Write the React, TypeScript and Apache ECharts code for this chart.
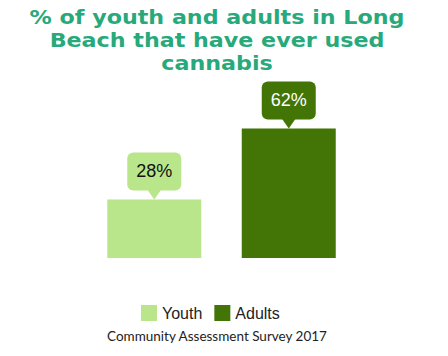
import React, { useEffect, useRef } from "react";
import * as echarts from "echarts";

const groups = ["Youth", "Adults"];
const youthValues: (number | string)[] = [28, "-"];
const adultValues: (number | string)[] = ["-", 62];
const calloutValues = [28, 62];
const titleLines = ["% of youth and adults in Long", "Beach that have ever used", "cannabis"];
const sourceText = "Community Assessment Survey 2017";

const YOUTH = "#b9e68b";
const ADULT = "#427505";
const TITLE = "#27a97b";

export default function App() {
  const ref = useRef<HTMLDivElement>(null);
  useEffect(() => {
    if (!ref.current) return;
    const chart = echarts.init(ref.current, undefined, { renderer: "svg" });
    const fills = [YOUTH, ADULT];
    const textFills = ["#111", "#fff"];
    chart.setOption({
      animation: false,
      backgroundColor: "#fff",
      legend: {
        data: groups,
        top: 300,
        left: 136,
        itemWidth: 16,
        itemHeight: 16,
        itemGap: 12,
        icon: "rect",
        textStyle: { fontSize: 16, color: "#222", fontFamily: "Liberation Sans" },
      },
      graphic: [
        {
          type: "text",
          x: 217,
          y: 6.5,
          scaleX: 1.17,
          style: {
            text: titleLines.join("\n"),
            align: "center",
            verticalAlign: "top",
            lineHeight: 23,
            fill: TITLE,
            fontSize: 19,
            fontWeight: "bold",
            fontFamily: "DejaVu Sans",
          },
        },
        {
          type: "text",
          x: 217,
          y: 329,
          style: { text: sourceText, align: "center", fontSize: 13.5, fill: "#222", fontFamily: "Lato" },
        },
      ],
      grid: { left: 87, right: 92, top: 49, bottom: 98 },
      xAxis: { type: "category", data: groups, show: false },
      yAxis: { type: "value", min: 0, max: 100, show: false },
      series: [
        {
          name: "Youth",
          type: "bar",
          stack: "all",
          barWidth: 94,
          data: youthValues,
          itemStyle: { color: YOUTH },
        },
        {
          name: "Adults",
          type: "bar",
          stack: "all",
          barWidth: 94,
          data: adultValues,
          itemStyle: { color: ADULT },
        },
        {
          type: "custom",
          data: calloutValues.map((v, i) => [i, v]),
          renderItem: (params: any, api: any) => {
            const idx = api.value(0);
            const v = api.value(1);
            const p = api.coord([idx, v]);
            const w = 54, h = 38, tri = 9;
            return {
              type: "group",
              x: p[0],
              y: p[1],
              children: [
                { type: "rect", shape: { x: -w / 2, y: -tri - h, width: w, height: h, r: 6 }, style: { fill: fills[idx] } },
                { type: "polygon", shape: { points: [[-7, -tri - 1], [7, -tri - 1], [0, 0]] }, style: { fill: fills[idx] } },
                {
                  type: "text",
                  style: {
                    text: v + "%",
                    x: 0,
                    y: -tri - h / 2,
                    align: "center",
                    verticalAlign: "middle",
                    fill: textFills[idx],
                    fontSize: 18,
                    fontFamily: "Liberation Sans",
                  },
                },
              ],
            };
          },
        },
      ],
    });
    return () => chart.dispose();
  }, []);
  return <div ref={ref} style={{ width: 448, height: 356, position: "absolute", left: 0, top: 0 }} />;
}
